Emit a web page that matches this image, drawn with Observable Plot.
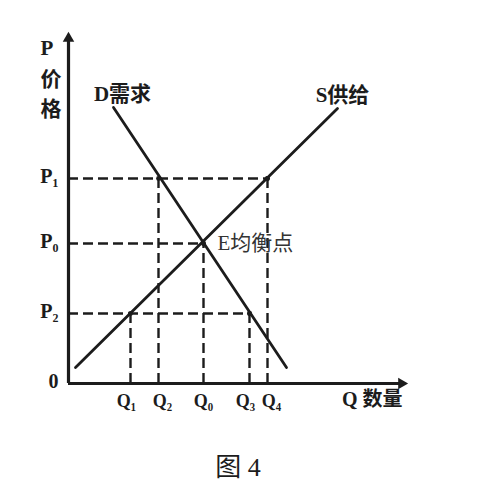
<!DOCTYPE html>
<html><head><meta charset="utf-8">
<script src="https://cdn.jsdelivr.net/npm/d3@7"></script>
<script src="https://cdn.jsdelivr.net/npm/@observablehq/plot@0.6"></script>
<style>body{margin:0;background:#fff}</style>
</head><body><div id="chart"></div>
<script>
// quantity ticks
const qLabels = ["Q₁", "Q₂", "Q₀", "Q₃", "Q₄"];
const qValues = [62, 90, 135, 181, 199];
// price each quantity guide reaches
const qGuideTop = [70, 205, 140, 70, 205];
// price ticks
const pLabels = ["0", "P₂", "P₀", "P₁"];
const pValues = [0, 70, 140, 205];
// quantity each price guide reaches
const pGuideRight = [0, 181, 135, 199];
// supply curve S
const supplyQ = [7, 269];
const supplyP = [16, 275];
// demand curve D
const demandQ = [45, 218];
const demandP = [276, 16];
// equilibrium E
const eqQ = [135];
const eqP = [140];
// axis extents
const axisQmax = 339;
const axisPmax = 351;

const ink = "#1c1c1c";
const font = '"Liberation Serif","Noto Sans CJK SC",serif';

const supply = d3.zip(supplyQ, supplyP);
const demand = d3.zip(demandQ, demandP);
const vGuides = d3.zip(qValues, qGuideTop);
const hGuides = d3.zip(pValues, pGuideRight).filter(d => d[0] > 0);
const crossings = [...vGuides.map(d => [d[0], d[1]]), ...hGuides.map(d => [d[1], d[0]])];
const qFmt = d => qLabels[qValues.indexOf(d)];
// labels of close pairs are nudged apart (Q1|Q2, Q3|Q4)
const qLeft = qValues.filter((d, i) => ["Q₁", "Q₃"].includes(qLabels[i]));
const qRight = qValues.filter((d, i) => ["Q₂", "Q₄"].includes(qLabels[i]));
const qMid = qValues.filter((d, i) => qLabels[i] === "Q₀");

const axisOpts = {tickFormat: qFmt, tickSize: 0, tickPadding: 11, fontSize: 18, fontWeight: "bold", label: null};

const chart = Plot.plot({
  width: 498, height: 494,
  marginLeft: 68, marginRight: 91, marginTop: 32, marginBottom: 111,
  x: {domain: [0, axisQmax]},
  y: {domain: [0, axisPmax]},
  style: {fontFamily: font, color: ink, background: "#fff"},
  marks: [
    Plot.axisX({...axisOpts, ticks: qLeft, dx: -4}),
    Plot.axisX({...axisOpts, ticks: qRight, dx: 4}),
    Plot.axisX({...axisOpts, ticks: qMid}),
    Plot.axisY({ticks: pValues, tickFormat: d => pLabels[pValues.indexOf(d)], tickSize: 0, tickPadding: 10, dy: -2, fontSize: 20, fontWeight: "bold", label: null}),
    // dashed guides
    Plot.ruleX(vGuides, {x: d => d[0], y1: 0, y2: d => d[1], stroke: ink, strokeWidth: 2.4, strokeDasharray: "10,5"}),
    Plot.ruleY(hGuides, {y: d => d[0], x1: 0, x2: d => d[1], stroke: ink, strokeWidth: 2.4, strokeDasharray: "10,5"}),
    // axes
    Plot.ruleY([0], {x1: 0, x2: axisQmax - 6, stroke: ink, strokeWidth: 3.2}),
    Plot.ruleX([0], {y1: 0, y2: axisPmax - 6, stroke: ink, strokeWidth: 3.2}),
    Plot.dot([[axisQmax - 6, 0]], {x: d => d[0], y: d => d[1], symbol: "triangle2", rotate: 90, r: 5.5, fill: ink}),
    Plot.dot([[0, axisPmax - 6]], {x: d => d[0], y: d => d[1], symbol: "triangle2", r: 5.5, fill: ink}),
    // curves
    Plot.line(supply, {x: d => d[0], y: d => d[1], stroke: ink, strokeWidth: 2.8}),
    Plot.line(demand, {x: d => d[0], y: d => d[1], stroke: ink, strokeWidth: 2.8}),
    Plot.dot(crossings, {x: d => d[0], y: d => d[1], r: 2.4, fill: ink}),
    // labels
    Plot.text([demand[0]], {x: d => d[0], y: d => d[1], text: () => "D需求", dx: 9, dy: -13, fontSize: 21, fontWeight: "bold", fill: ink}),
    Plot.text([supply[1]], {x: d => d[0], y: d => d[1], text: () => "S供给", dx: 5, dy: -13, fontSize: 21, fontWeight: "bold", fill: ink}),
    Plot.text(d3.zip(eqQ, eqP), {x: d => d[0], y: d => d[1], text: () => "E均衡点", dx: 14, textAnchor: "start", fontSize: 21, fill: "#333"}),
    Plot.text(["P\n价\n格"], {frameAnchor: "top-left", dx: -28, dy: 1, lineAnchor: "top", lineHeight: 1.45, fontSize: 21, fontWeight: "bold", fill: ink}),
    Plot.text(["Q 数量"], {frameAnchor: "bottom-right", dx: -5, dy: 22, fontSize: 20, fontWeight: "bold", fill: ink}),
    Plot.text(["图 4"], {frameAnchor: "bottom", dx: 0, dy: 92, fontSize: 26, fill: ink})
  ]
});
document.getElementById("chart").appendChild(chart);
</script>
</body></html>
